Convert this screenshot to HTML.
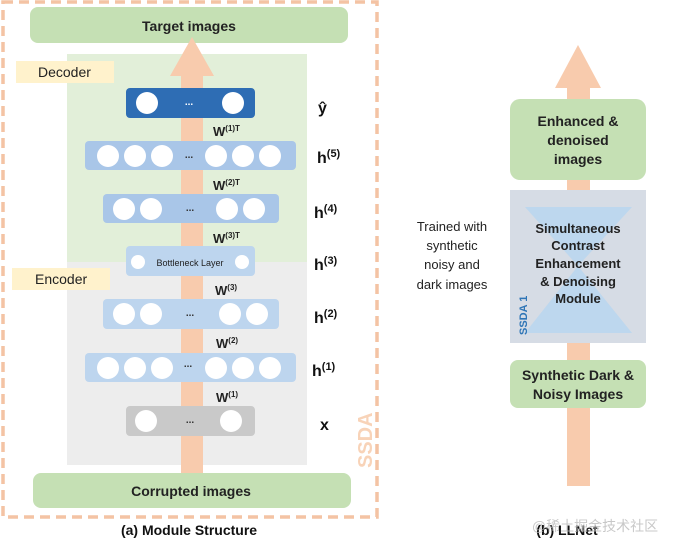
<!DOCTYPE html>
<html><head><meta charset="utf-8"><style>
body{margin:0;background:#fff}
svg{display:block}
text{font-family:"Liberation Sans","Noto Sans CJK SC",sans-serif}
</style></head><body>
<svg width="676" height="549" viewBox="0 0 676 549" xmlns="http://www.w3.org/2000/svg">
<rect x="3" y="2" width="374" height="515" fill="none" stroke="#f4c3a4" stroke-width="3.5" stroke-dasharray="10,6"/>
<rect x="30" y="7" width="318" height="36" rx="8" fill="#c5e0b4"/>
<text x="189" y="31" text-anchor="middle" font-size="14" font-weight="bold" fill="#222">Target images</text>
<rect x="67" y="54" width="240" height="210" fill="#e2efd9"/>
<rect x="67" y="262" width="240" height="203" fill="#ededed"/>
<rect x="16" y="61" width="98" height="22" fill="#fff2cc"/>
<text x="38" y="77" font-size="14" fill="#222">Decoder</text>
<rect x="12" y="268" width="98" height="22" fill="#fff2cc"/>
<text x="35" y="284" font-size="14" fill="#222">Encoder</text>
<rect x="181" y="75" width="22" height="404" fill="#f8cbad"/>
<polygon points="192,37 170,76 214,76" fill="#f8cbad"/>
<g fill="#fff">
<rect x="126" y="88" width="129" height="30" rx="4" fill="#2e6db4"/>
<circle cx="147" cy="103" r="11"/><circle cx="233" cy="103" r="11"/>
<rect x="85" y="141" width="211" height="29" rx="4" fill="#a9c6e8"/>
<circle cx="108" cy="156" r="11"/><circle cx="135" cy="156" r="11"/><circle cx="162" cy="156" r="11"/>
<circle cx="216" cy="156" r="11"/><circle cx="243" cy="156" r="11"/><circle cx="270" cy="156" r="11"/>
<rect x="103" y="194" width="176" height="29" rx="4" fill="#a9c6e8"/>
<circle cx="124" cy="209" r="11"/><circle cx="151" cy="209" r="11"/><circle cx="227" cy="209" r="11"/><circle cx="254" cy="209" r="11"/>
<rect x="126" y="246" width="129" height="30" rx="4" fill="#bdd5ee"/>
<circle cx="138" cy="262" r="7"/><circle cx="242" cy="262" r="7"/>
<rect x="103" y="299" width="176" height="30" rx="4" fill="#bdd5ee"/>
<circle cx="124" cy="314" r="11"/><circle cx="151" cy="314" r="11"/><circle cx="230" cy="314" r="11"/><circle cx="257" cy="314" r="11"/>
<rect x="85" y="353" width="211" height="29" rx="4" fill="#bdd5ee"/>
<circle cx="108" cy="368" r="11"/><circle cx="135" cy="368" r="11"/><circle cx="162" cy="368" r="11"/>
<circle cx="216" cy="368" r="11"/><circle cx="243" cy="368" r="11"/><circle cx="270" cy="368" r="11"/>
<rect x="126" y="406" width="129" height="30" rx="4" fill="#c9c9c9"/>
<circle cx="146" cy="421" r="11"/><circle cx="231" cy="421" r="11"/>
</g>
<g font-size="10" font-weight="bold" fill="#333" text-anchor="middle">
<text x="189" y="105" fill="#fff">...</text><text x="189" y="158">...</text><text x="190" y="211">...</text>
<text x="190" y="316">...</text><text x="188" y="367">...</text><text x="190" y="423">...</text>
</g>
<text x="190" y="266" font-size="9" text-anchor="middle" fill="#222">Bottleneck Layer</text>
<g font-size="13" font-weight="bold" fill="#222">
<text x="213" y="136">W<tspan font-size="8" dy="-5">(1)T</tspan></text>
<text x="213" y="190">W<tspan font-size="8" dy="-5">(2)T</tspan></text>
<text x="213" y="243">W<tspan font-size="8" dy="-5">(3)T</tspan></text>
<text x="215" y="295">W<tspan font-size="8" dy="-5">(3)</tspan></text>
<text x="216" y="348">W<tspan font-size="8" dy="-5">(2)</tspan></text>
<text x="216" y="402">W<tspan font-size="8" dy="-5">(1)</tspan></text>
</g>
<g font-size="16" font-weight="bold" fill="#111">
<text x="318" y="113">ŷ</text>
<text x="317" y="163">h<tspan font-size="11" dy="-6">(5)</tspan></text>
<text x="314" y="218">h<tspan font-size="11" dy="-6">(4)</tspan></text>
<text x="314" y="270">h<tspan font-size="11" dy="-6">(3)</tspan></text>
<text x="314" y="323">h<tspan font-size="11" dy="-6">(2)</tspan></text>
<text x="312" y="376">h<tspan font-size="11" dy="-6">(1)</tspan></text>
<text x="320" y="430">x</text>
</g>
<text transform="translate(372,468) rotate(-90)" font-size="20" font-weight="bold" fill="#f8d3b8">SSDA</text>
<rect x="33" y="473" width="318" height="35" rx="8" fill="#c5e0b4"/>
<text x="191" y="496" text-anchor="middle" font-size="14" font-weight="bold" fill="#222">Corrupted images</text>
<text x="189" y="535" text-anchor="middle" font-size="14" font-weight="bold" fill="#111">(a) Module Structure</text>

<rect x="567" y="80" width="23" height="406" fill="#f8cbad"/>
<polygon points="578,45 555,88 601,88" fill="#f8cbad"/>
<rect x="510" y="99" width="136" height="81" rx="10" fill="#c5e0b4"/>
<g font-size="14" font-weight="bold" fill="#222" text-anchor="middle">
<text x="578" y="126">Enhanced &amp;</text><text x="578" y="145">denoised</text><text x="578" y="164">images</text>
</g>
<rect x="510" y="190" width="136" height="153" fill="#d6dce5"/>
<polygon points="525,207 632,207 578,266 632,333 525,333 578,266" fill="#bdd7ee"/>
<g font-size="13" font-weight="bold" fill="#222" text-anchor="middle">
<text x="578" y="233">Simultaneous</text><text x="578" y="250">Contrast</text><text x="578" y="268">Enhancement</text>
<text x="578" y="286">&amp; Denoising</text><text x="578" y="303">Module</text>
</g>
<text transform="translate(527,335) rotate(-90)" font-size="11" font-weight="bold" fill="#2e75b6">SSDA 1</text>
<rect x="510" y="360" width="136" height="48" rx="8" fill="#c5e0b4"/>
<g font-size="14" font-weight="bold" fill="#222" text-anchor="middle">
<text x="578" y="380">Synthetic Dark &amp;</text><text x="578" y="399">Noisy Images</text>
</g>
<g font-size="13" fill="#222" text-anchor="middle">
<text x="452" y="231">Trained with</text><text x="452" y="250">synthetic</text><text x="452" y="269">noisy and</text><text x="452" y="289">dark images</text>
</g>
<text x="567" y="535" text-anchor="middle" font-size="14" font-weight="bold" fill="#111">(b) LLNet</text>
<text x="595" y="531" text-anchor="middle" font-size="14" fill="#bbb" opacity="0.8">@稀土掘金技术社区</text>
</svg>
</body></html>
